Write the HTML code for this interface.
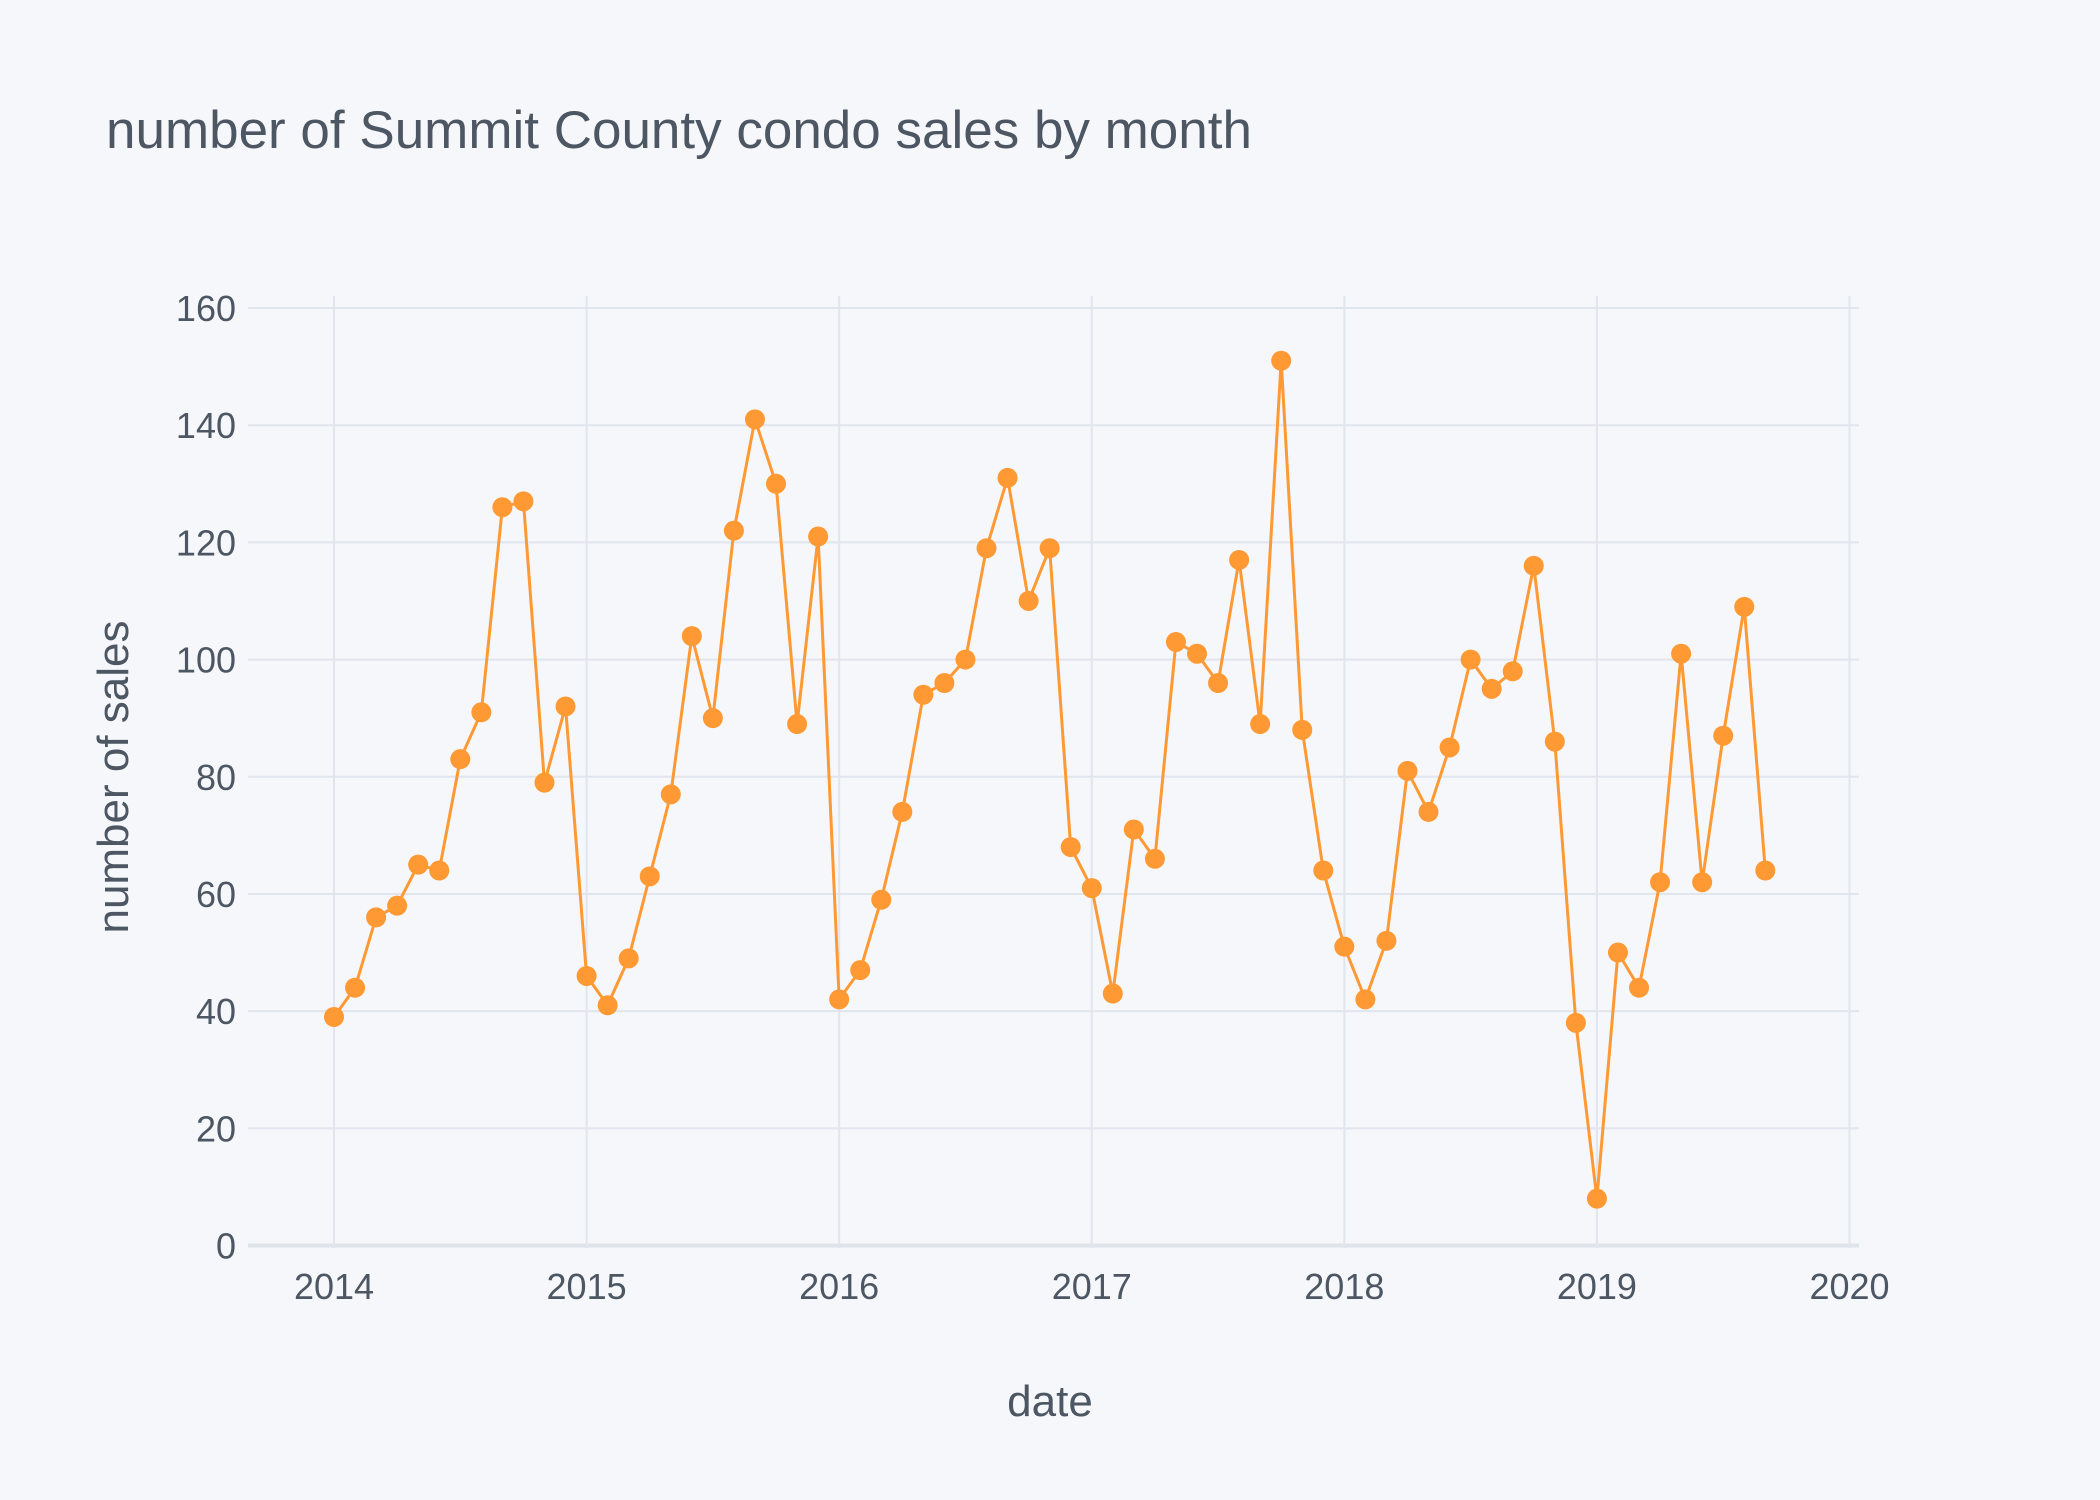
<!DOCTYPE html>
<html><head><meta charset="utf-8"><style>
html,body{margin:0;padding:0;background:#f5f7fa;}
svg{display:block;font-family:"Liberation Sans",sans-serif;}
</style></head><body>
<svg id="chart" width="2100" height="1500" viewBox="0 0 2100 1500">
<rect x="0" y="0" width="2100" height="1500" fill="#f5f7fa"/>
<text x="106" y="148" font-size="53" fill="#4d5663">number of Summit County condo sales by month</text>
<g id="grid"></g>
<g id="ticks"></g>
<text x="1050" y="1416" font-size="44" fill="#4d5663" text-anchor="middle">date</text>
<text transform="translate(128,777) rotate(-90)" font-size="44" fill="#4d5663" text-anchor="middle">number of sales</text>
<g id="series"></g>
</svg>
<script>
const startYear = 2014;
const sales = [
39,44,56,58,65,64,83,91,126,127,79,92,
46,41,49,63,77,104,90,122,141,130,89,121,
42,47,59,74,94,96,100,119,131,110,119,68,
61,43,71,66,103,101,96,117,89,151,88,64,
51,42,52,81,74,85,100,95,98,116,86,38,
8,50,44,62,101,62,87,109,64
];
const yTicks = [0,20,40,60,80,100,120,140,160];
const xTicks = [2014,2015,2016,2017,2018,2019,2020];

const NS = "http://www.w3.org/2000/svg";
const X0 = 334, X1 = 1849.5, Y0 = 1245.5, Y1 = 308;
const plotL = 248, plotR = 1859, plotT = 296, plotB = 1248;
function xs(yr){ return X0 + (yr - 2014) / 6 * (X1 - X0); }
function ys(v){ return Y0 - v / 160 * (Y0 - Y1); }
function mk(tag, attrs, parent){
  const e = document.createElementNS(NS, tag);
  for (const k in attrs) e.setAttribute(k, attrs[k]);
  parent.appendChild(e);
  return e;
}
const grid = document.getElementById('grid');
const ticks = document.getElementById('ticks');
yTicks.forEach(v => {
  const l = mk('line', {x1: plotL, x2: plotR, y1: ys(v), y2: ys(v), stroke: v === 0 ? '#dfe3ea' : '#e1e5ed', 'stroke-width': v === 0 ? 4 : 2}, grid);
  
  
  const t = mk('text', {x: 236, y: ys(v) + 13, 'font-size': 36, fill: '#4d5663', 'text-anchor': 'end'}, ticks);
  t.textContent = v;
  
  
});
xTicks.forEach(yr => {
  const l = mk('line', {x1: xs(yr), x2: xs(yr), y1: plotT, y2: plotB, stroke: '#e1e5ed', 'stroke-width': 2}, grid);
  
  
  const t = mk('text', {x: xs(yr), y: 1299, 'font-size': 36, fill: '#4d5663', 'text-anchor': 'middle'}, ticks);
  t.textContent = yr;
  
  
});
const series = document.getElementById('series');
const pts = sales.map((v, i) => [xs(startYear + i / 12), ys(v)]);
const line = mk('polyline', {points: pts.map(p => p.join(',')).join(' '), fill: 'none', stroke: '#ff9933', 'stroke-width': 3}, series);


pts.forEach(p => {
  const c = mk('circle', {cx: p[0], cy: p[1], r: 10, fill: '#ff9933'}, series);
  
  
});
</script>
</body></html>
